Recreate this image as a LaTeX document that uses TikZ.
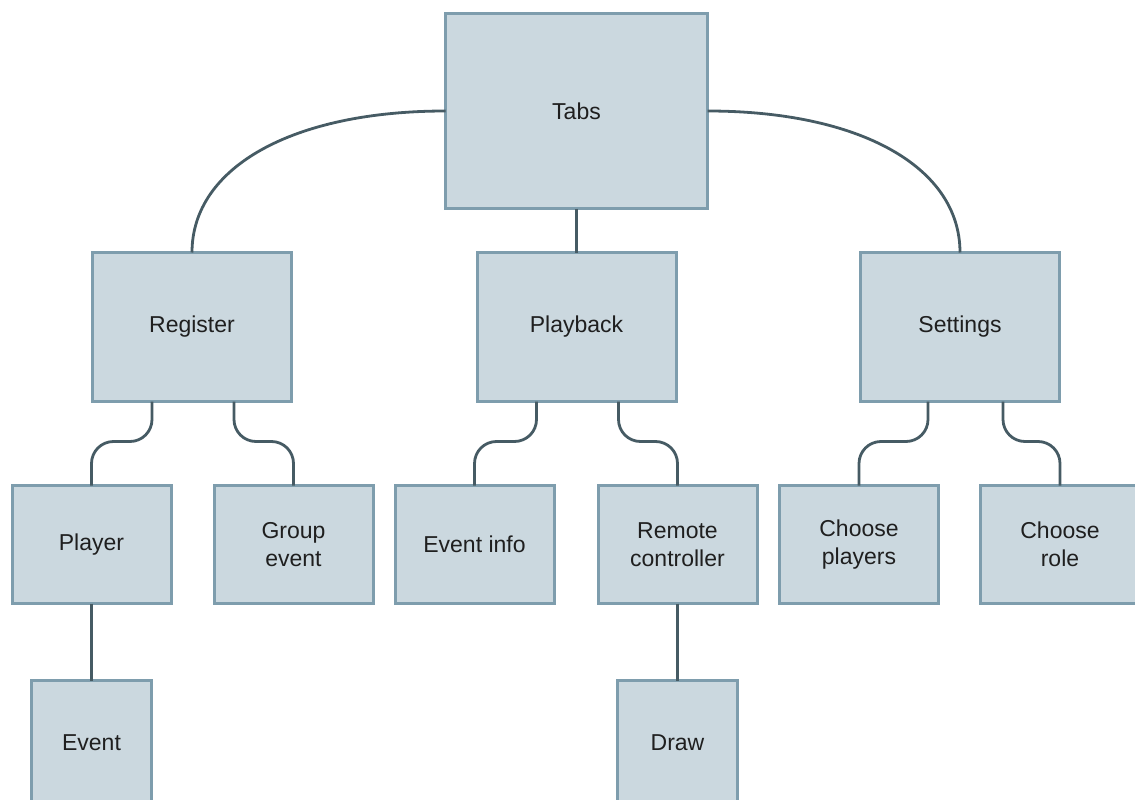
\documentclass[tikz,border=0pt]{standalone}
\usepackage{fontspec}
\setmainfont{Liberation Sans}
\definecolor{boxfill}{HTML}{CBD8DF}
\definecolor{boxline}{HTML}{7E9DAD}
\definecolor{wirecol}{HTML}{465B64}
\begin{document}
\begin{tikzpicture}[x=1pt,y=-1pt,
  box/.style={draw=boxline,fill=boxfill,line width=3pt,align=center,
    inner sep=0pt,outer sep=0pt,text=black!88,
    font=\fontsize{23}{28}\selectfont},
  rootbox/.style={box,minimum width=262pt,minimum height=195pt},
  midbox/.style={box,minimum width=199pt,minimum height=149pt},
  leafbox/.style={box,minimum width=159pt,minimum height=118pt},
  lowbox/.style={box,minimum width=120pt,minimum height=130pt},
  wire/.style={draw=wirecol,line width=2.8pt},
  elbow/.style={wire,rounded corners=22pt}]
\useasboundingbox (0,0) rectangle (1135,800);
\clip (0,0) rectangle (1135,800);

% level 0
\node[rootbox] (tabs) at (576.5,111) {Tabs};
% level 1
\node[midbox] (reg)  at (192,327)   {Register};
\node[midbox] (play) at (576.5,327) {Playback};
\node[midbox] (set)  at (960,327)   {Settings};
% level 2
\node[leafbox] (player) at (91.5,544.5)  {Player};
\node[leafbox] (group)  at (293.5,544.5) {Group\\event};
\node[leafbox] (info)   at (474.5,544.5) {Event info};
\node[leafbox] (remote) at (677.5,544.5) {Remote\\controller};
\node[leafbox] (chpl)   at (859,544.5)   {Choose\\players};
\node[leafbox,minimum width=170pt] (chrole) at (1065.5,544.5)
  {\hspace*{-11pt}Choose\\\hspace*{-11pt}role};
% level 3 (running past the lower edge)
\node[lowbox] (event) at (91.5,745.5) {\raisebox{5pt}{Event}};
\node[lowbox] (draw)  at (677.5,745.5) {\raisebox{5pt}{Draw}};

% connectors from the root
\draw[wire] (tabs.west) .. controls (293,111) and (192,167) .. (reg.north);
\draw[wire] (tabs.east) .. controls (860,111) and (960,167) .. (set.north);
\draw[wire] (tabs.south) -- (play.north);

% connectors from level 1
\draw[elbow] ([xshift=-40pt]reg.south) -- ++(0,40) -| (player.north);
\draw[elbow] ([xshift=42pt]reg.south)  -- ++(0,40) -| (group.north);
\draw[elbow] ([xshift=-40pt]play.south) -- ++(0,40) -| (info.north);
\draw[elbow] ([xshift=42pt]play.south)  -- ++(0,40) -| (remote.north);
\draw[elbow] ([xshift=-32pt]set.south) -- ++(0,40) -| (chpl.north);
\draw[elbow] ([xshift=43pt]set.south)  -- ++(0,40) -| ([xshift=-5.5pt]chrole.north);

% connectors from level 2
\draw[wire] (player.south) -- (event.north);
\draw[wire] (remote.south) -- (draw.north);
\end{tikzpicture}
\end{document}
